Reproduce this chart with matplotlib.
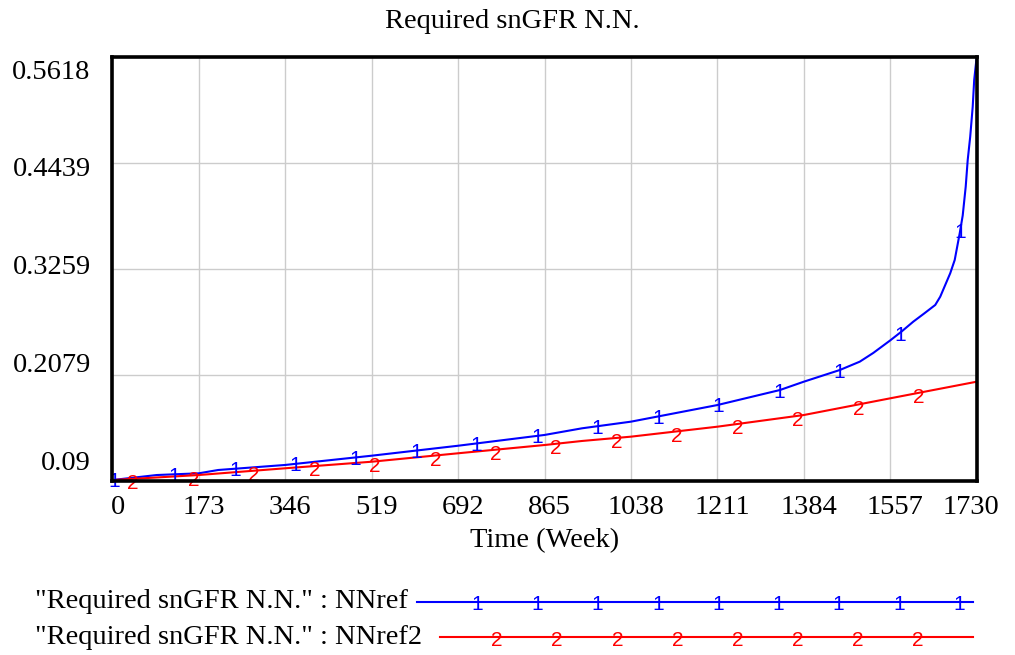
import matplotlib.pyplot as plt
import numpy as np
from matplotlib.lines import Line2D
from matplotlib import transforms

# values (Time in weeks)
t_ref = [0, 89, 173, 212, 346, 519, 692, 865, 940, 1038, 1211, 1336, 1384,
         1456, 1496, 1523, 1557, 1580, 1603, 1625, 1647, 1657, 1677, 1686,
         1696, 1702, 1708, 1712, 1717, 1722, 1725, 1730]
nn_ref = [0.0905, 0.0961, 0.0980, 0.1017, 0.1073, 0.1176, 0.1287, 0.1407,
          0.1481, 0.1555, 0.1740, 0.1907, 0.2000, 0.2130, 0.2223, 0.2320,
          0.2460, 0.2560, 0.2668, 0.2760, 0.2854, 0.2946, 0.3207, 0.3355,
          0.3652, 0.3850, 0.4171, 0.4468, 0.4727, 0.5061, 0.5359, 0.5618]

t_ref2 = [0, 173, 346, 519, 692, 865, 940, 1038, 1211, 1384, 1557, 1730]
nn_ref2 = [0.0905, 0.0961, 0.1036, 0.1109, 0.1203, 0.1295, 0.1340, 0.1388,
           0.1499, 0.1629, 0.1815, 0.2000]

xticks = [0, 173, 346, 519, 692, 865, 1038, 1211, 1384, 1557, 1730]
yticks = [0.09, 0.20795, 0.3259, 0.44385, 0.5618]
ytick_labels = ['0.09', '0.2079', '0.3259', '0.4439', '0.5618']

title = 'Required snGFR N.N.'
xlabel = 'Time (Week)'
names = ['"Required snGFR N.N." : NNref', '"Required snGFR N.N." : NNref2']

W, H = 1015, 655
serif = ['Liberation Serif', 'DejaVu Serif']
fs = 20.5
mfs = 15

plt.close()
fig = plt.figure(figsize=(W / 100, H / 100), dpi=100)
ax = fig.add_axes([112.3 / W, 1 - 480.5 / H, (976.7 - 112.3) / W, (480.5 - 56.7) / H])

ax.set_xlim(0, 1730)
ax.set_ylim(0.09, 0.5618)
ax.set_xticks(xticks)
ax.set_yticks(yticks)
ax.grid(True, color='#cccccc', linewidth=1.0)
ax.tick_params(length=0, labelbottom=False, labelleft=False)
for s in ax.spines.values():
    s.set_linewidth(2.6)
    s.set_color('black')
    s.set_zorder(5)

ax.plot(t_ref, nn_ref, color='#0000ff', lw=1.5, zorder=3)
ax.plot(t_ref2, nn_ref2, color='#ff0000', lw=1.5, zorder=3)

# digit marks along the curves
for tm in np.arange(3, 1730, 121):
    ax.annotate('1', (tm, np.interp(tm, t_ref, nn_ref)), xytext=(0, -1.5),
                textcoords='offset points', ha='center', va='center',
                color='#0000ff', fontsize=mfs, family='Liberation Sans', zorder=4)
for tm in np.arange(41.5, 1700, 121):
    ax.annotate('2', (tm, np.interp(tm, t_ref2, nn_ref2)), xytext=(0, -3.5),
                textcoords='offset points', ha='center', va='center',
                color='#ff0000', fontsize=mfs, family='Liberation Sans', zorder=4)

# tick labels (Vensim style placement)
bx = transforms.blended_transform_factory(ax.transData, ax.transAxes)
for i, v in enumerate(xticks):
    dx = 5
    if i == 0:
        dx = 6
    if i == len(xticks) - 1:
        dx = -6
    off = transforms.ScaledTranslation(dx / 100, 0, fig.dpi_scale_trans)
    ax.text(v, -0.035, str(v), transform=bx + off, ha='center', va='top',
            fontsize=fs, family=serif)
for i, lab in enumerate(ytick_labels):
    ax.text(-0.025, 0.041 + 0.2307 * i, lab, transform=ax.transAxes,
            ha='right', va='center', fontsize=fs, family=serif)

fig.text(0.5 * (112.3 + 976.7) / W, 1 - 541 / H, xlabel, ha='center', va='center',
         fontsize=fs, family=serif)
fig.text(512 / W, 1 - 22 / H, title, ha='center', va='center', fontsize=fs, family=serif)

# legend below the plot
leg = [(602, 417, '#0000ff', '1', np.linspace(477, 959, 9)),
       (637, 440, '#ff0000', '2', np.linspace(497, 918, 8))]
for (yy, x0, col, mk, mxs), name in zip(leg, names):
    fig.text(35 / W, 1 - yy / H, name, ha='left', va='center', fontsize=fs, family=serif)
    fig.add_artist(Line2D([x0 / W, 973 / W], [1 - yy / H, 1 - yy / H], color=col, lw=1.5))
    for mx in mxs:
        fig.text(mx / W, 1 - (yy + (4 if mk == '2' else 2)) / H, mk, ha='center',
                 va='center', color=col, fontsize=mfs, family='Liberation Sans')

fig.savefig('out.png', dpi=100)
